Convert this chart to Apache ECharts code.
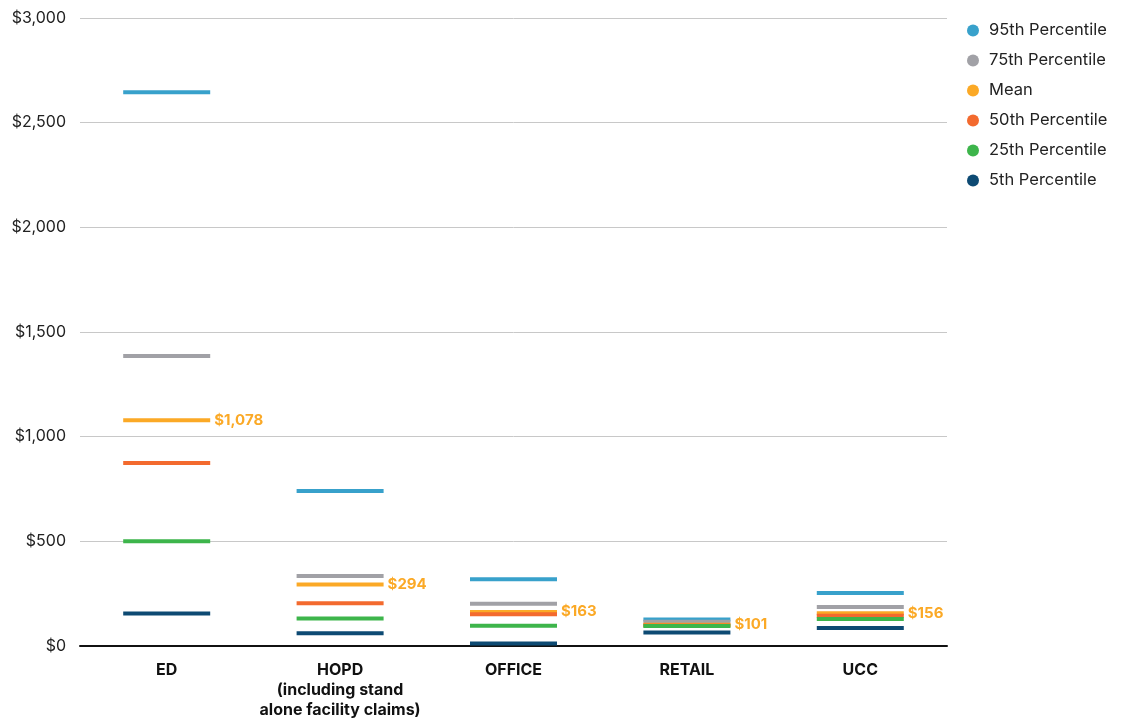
<!DOCTYPE html>
<html>
<head>
<meta charset="utf-8">
<script src="https://cdn.jsdelivr.net/npm/echarts@6/dist/echarts.min.js"></script>
<style>
  html, body { margin: 0; padding: 0; background: #fff; }
  #chart { width: 1124px; height: 721px; }
</style>
</head>
<body>
<div id="chart"></div>
<script>
// care settings
var categories = ['ED', 'HOPD\n(including stand\nalone facility claims)', 'OFFICE', 'RETAIL', 'UCC'];

// cost per visit
var p95 = [2645, 740, 319, 127, 253];
var p75 = [1385, 334, 202, 116, 186];
var mean = [1078, 294, 163, 101, 156];
var p50 = [874, 204, 152, 98, 145];
var p25 = [500, 131, 97, 95, 129];
var p5 = [155, 61, 12, 65, 86];

var yTicks = [0, 500, 1000, 1500, 2000, 2500, 3000];

var seriesDefs = [
  { name: '95th Percentile', data: p95, color: '#38A1CB' },
  { name: '75th Percentile', data: p75, color: '#A1A1A6' },
  { name: 'Mean', data: mean, color: '#FBA926', label: true },
  { name: '50th Percentile', data: p50, color: '#F36A2E' },
  { name: '25th Percentile', data: p25, color: '#3DB54B' },
  { name: '5th Percentile', data: p5, color: '#0D4A73' }
];

function money(v) {
  return '$' + v.toString().replace(/\B(?=(\d{3})+(?!\d))/g, ',');
}

var chart = echarts.init(document.getElementById('chart'));

var series = seriesDefs.map(function (s) {
  return {
    name: s.name,
    type: 'scatter',
    symbol: 'rect',
    symbolSize: [87, 4],
    itemStyle: { color: s.color, opacity: 1 },
    data: s.data,
    z: 3,
    label: {
      show: !!s.label,
      position: 'right',
      distance: 4,
      color: '#FBA926',
      fontWeight: 'bold',
      fontSize: 15,
      fontFamily: 'Inter',
      formatter: function (p) { return money(p.value); }
    },
    emphasis: { disabled: true }
  };
});

chart.setOption({
  animation: false,
  textStyle: { fontFamily: 'Inter' },
  grid: { left: 80, right: 177, top: 18, bottom: 75 },
  legend: {
    orient: 'vertical',
    left: 962,
    top: 17,
    icon: 'circle',
    itemWidth: 12,
    itemHeight: 12,
    itemGap: 13,
    textStyle: { fontSize: 16.5, color: '#222', fontFamily: 'Inter', padding: [0, 0, 0, 5] },
    data: seriesDefs.map(function (s) { return s.name; })
  },
  xAxis: {
    type: 'category',
    data: categories,
    axisLine: { lineStyle: { color: '#111', width: 2 } },
    axisTick: { show: false },
    axisLabel: {
      color: '#111',
      fontWeight: 'bold',
      fontSize: 16,
      lineHeight: 20,
      margin: 14,
      interval: 0
    }
  },
  yAxis: {
    type: 'value',
    min: yTicks[0],
    max: yTicks[yTicks.length - 1],
    interval: 500,
    axisLine: { show: false },
    axisTick: { show: false },
    splitLine: { lineStyle: { color: '#c8c8c8', width: 1 } },
    axisLabel: {
      color: '#222',
      fontSize: 16,
      margin: 14,
      formatter: function (v) { return money(v); }
    }
  },
  series: series
});

window.addEventListener('resize', function () {
  chart.resize();
});
</script>
</body>
</html>
